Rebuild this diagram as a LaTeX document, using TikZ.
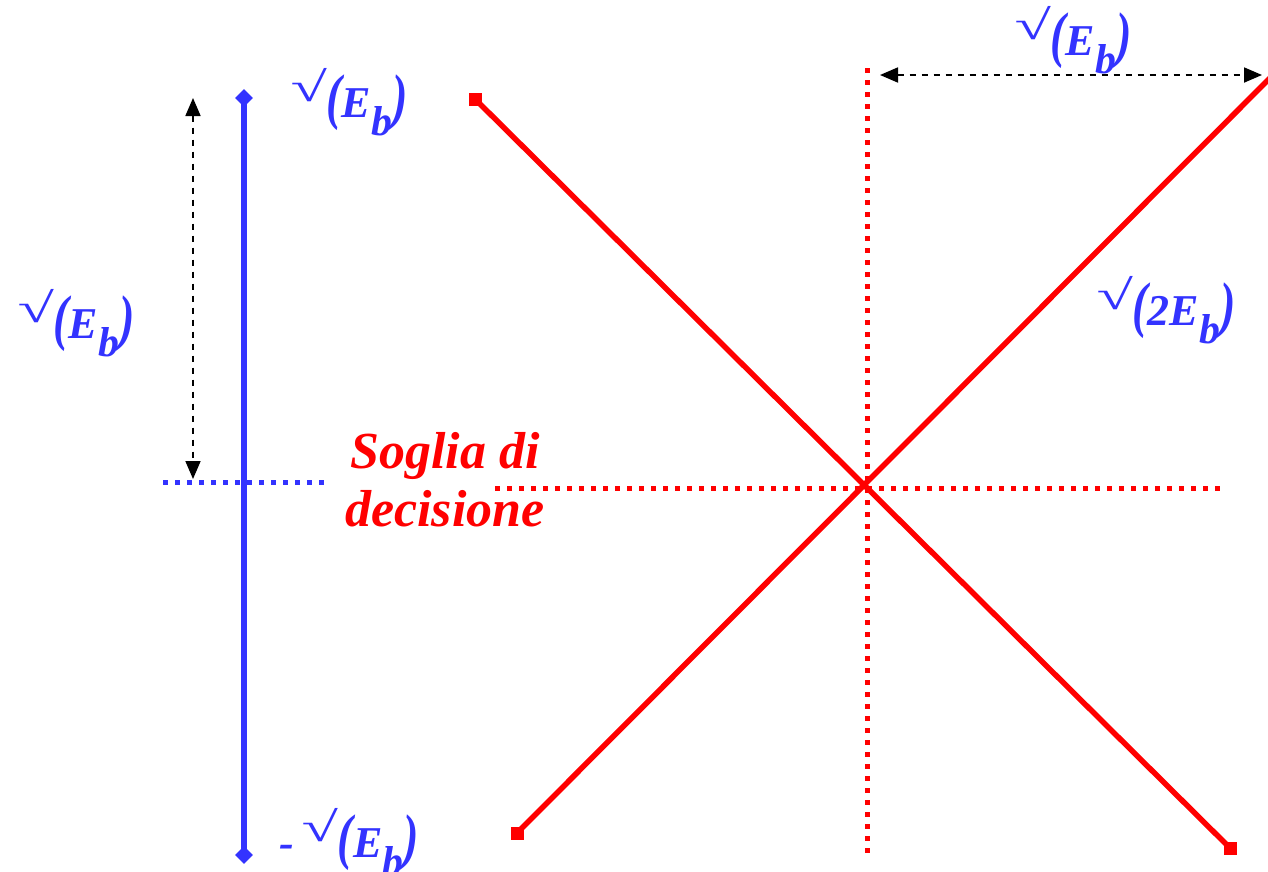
\documentclass[tikz,border=0pt]{standalone}
\usepackage{fontspec}
\usepackage{graphicx}
\setmainfont{Liberation Serif}
\usetikzlibrary{arrows.meta,shapes.geometric}
\definecolor{sigblue}{RGB}{51,51,255}
\definecolor{sigred}{RGB}{255,0,0}
\newcommand{\subb}{\raisebox{-0.42em}{\scalebox{0.95}{b}}}
\newcommand{\rad}{\raisebox{0.36em}{\scalebox{1.5}[0.95]{√}}}
\newcommand{\lp}{\scalebox{1.05}[1.4]{(}}
\newcommand{\rp}{\scalebox{1.05}[1.4]{)}}
\tikzset{
  lbl/.style={text=sigblue, font=\fontsize{44}{48}\selectfont\bfseries\itshape, inner sep=0pt, anchor=base west},
  bluesolid/.style={draw=sigblue, line width=6pt},
  bluedot/.style={draw=sigblue, line width=5pt, dash pattern=on 5pt off 7pt},
  reddot/.style={draw=sigred, line width=5pt, dash pattern=on 5pt off 7pt},
  redsolid/.style={draw=sigred, line width=5.5pt},
  dimarrow/.style={draw=black, line width=1.8pt, dash pattern=on 6pt off 6pt, {Triangle[length=18pt,width=15pt]}-{Triangle[length=18pt,width=15pt]}},
  bmark/.style={diamond, fill=sigblue, minimum size=18pt, inner sep=0pt},
  rmark/.style={rectangle, fill=sigred, minimum size=13pt, inner sep=0pt}
}
\begin{document}
\begin{tikzpicture}[x=1pt, y=-1pt]
\useasboundingbox (0,0) rectangle (1268,871);
\clip (0,0) rectangle (1268,871);
% blue constellation
\node[bmark] (btop) at (244,98) {};
\node[bmark] (bbot) at (244,855) {};
\draw[bluesolid] (btop.center) -- (bbot.center);
\coordinate (bl) at (163,482);
\coordinate (br) at (325,482);
\draw[bluedot] (bl) -- (br);
\coordinate (at) at (193,98);
\coordinate (ab) at (193,479);
\draw[dimarrow] (at) -- (ab);
\node[lbl] (ltop) at (290,117) {\rad\lp E\subb\rp};
\node[lbl] (lleft) at (17,338) {\rad\lp E\subb\rp};
\node[lbl] (lbot) at (279,857) {-\hspace{0.18em}\rad\lp E\subb\rp};
% red constellation
\node[rmark] (r1) at (475,99) {};
\node[rmark] (r2) at (1230,848) {};
\node[rmark] (r3) at (517,833) {};
\coordinate (r4) at (1274,74);
\draw[redsolid] (r1.center) -- (r2.center);
\draw[redsolid] (r3.center) -- (r4);
\coordinate (vt) at (867,68);
\coordinate (vb) at (867,855);
\draw[reddot] (vt) -- (vb);
\coordinate (hl) at (495,488);
\coordinate (hr) at (1222,488);
\draw[reddot] (hl) -- (hr);
\coordinate (dl) at (880,75);
\coordinate (dr) at (1262,75);
\draw[dimarrow] (dl) -- (dr);
\node[lbl] (ltr) at (1014,55) {\rad\lp E\subb\rp};
\node[lbl] (l2e) at (1096,325) {\rad\lp 2E\subb\rp};
\node[text=sigred, font=\fontsize{52}{58}\selectfont\bfseries\itshape, align=center, inner sep=0pt, anchor=north] (soglia) at (445,432) {Soglia di\\decisione};
\end{tikzpicture}
\end{document}
